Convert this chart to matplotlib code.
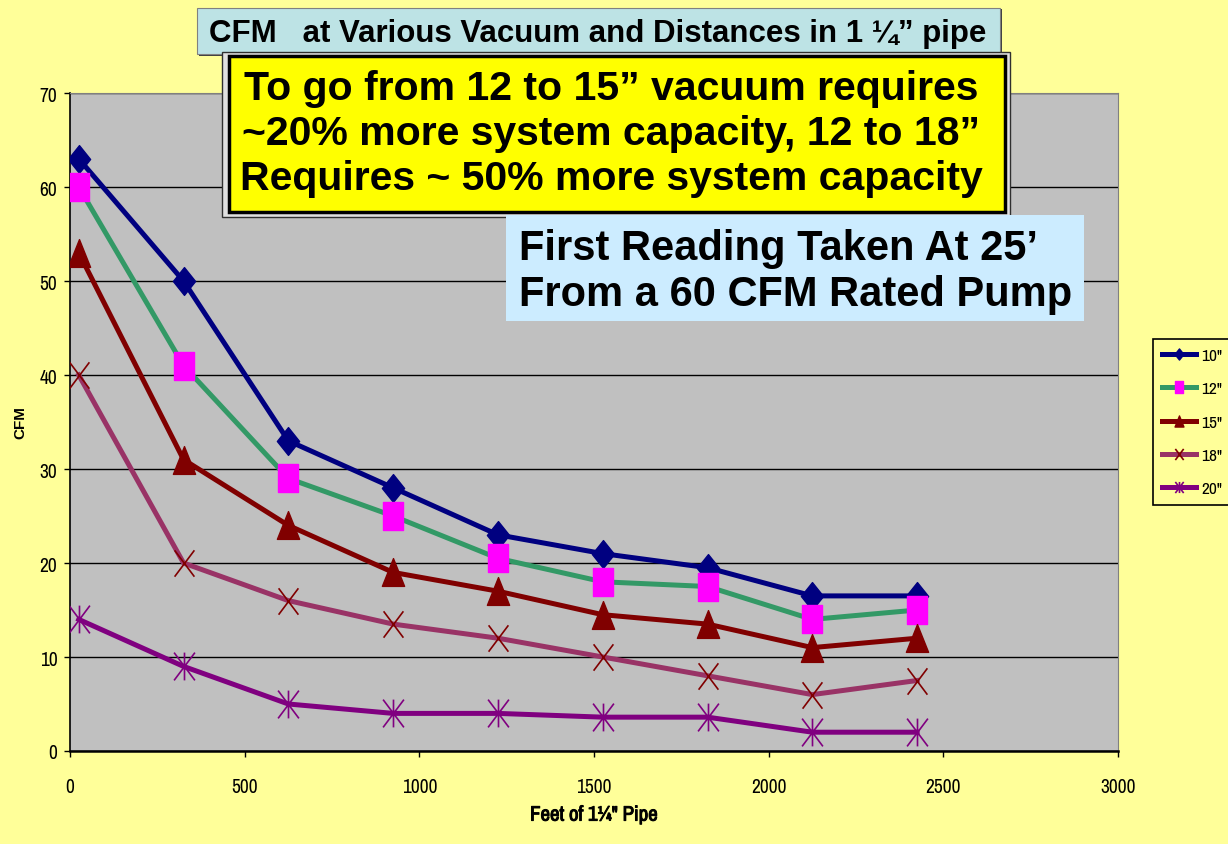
import matplotlib
matplotlib.use("Agg")
import matplotlib.pyplot as plt
import matplotlib.patheffects as pe
from matplotlib import font_manager
from matplotlib.path import Path
from matplotlib.patches import Rectangle
from matplotlib.lines import Line2D

# data
feet = [25, 325, 625, 925, 1225, 1525, 1825, 2125, 2425]
cfm_10 = [63, 50, 33, 28, 23, 21, 19.5, 16.5, 16.5]
cfm_12 = [60, 41, 29, 25, 20.5, 18, 17.5, 14, 15]
cfm_15 = [53, 31, 24, 19, 17, 14.5, 13.5, 11, 12]
cfm_18 = [40, 20, 16, 13.5, 12, 10, 8, 6, 7.5]
cfm_20 = [14, 9, 5, 4, 4, 3.6, 3.6, 2, 2]
labels = ['10"', '12"', '15"', '18"', '20"']

installed = {f.name for f in font_manager.fontManager.ttflist}


def pick(cands):
    found = [c for c in cands if c in installed]
    return found[:1] + ["DejaVu Sans"]


NARROW = pick(["Liberation Sans Narrow", "Arial Narrow", "Archivo Narrow",
               "Roboto Condensed", "PT Sans Narrow", "Open Sans Condensed",
               "Liberation Sans", "Arimo", "Arial", "Roboto"])
BOLD = pick(["Liberation Sans", "Arimo", "Arial", "Helvetica", "Roboto"])
BG = "#FFFF99"
# the narrow face may lack a bold weight, so thicken it with a stroke
fake_bold = [pe.withStroke(linewidth=0.7, foreground="black")]

# Excel-like markers, a bit taller than wide
diamond = Path([(0, 1), (0.8, 0), (0, -1), (-0.8, 0), (0, 1)],
               [Path.MOVETO, Path.LINETO, Path.LINETO, Path.LINETO, Path.CLOSEPOLY])
rect = Path([(-0.75, -1), (0.75, -1), (0.75, 1), (-0.75, 1), (-0.75, -1)],
            [Path.MOVETO, Path.LINETO, Path.LINETO, Path.LINETO, Path.CLOSEPOLY])
tri = Path([(0, 1), (0.8, -1), (-0.8, -1), (0, 1)],
           [Path.MOVETO, Path.LINETO, Path.LINETO, Path.CLOSEPOLY])
cross = Path([(-0.75, -1), (0.75, 1), (-0.75, 1), (0.75, -1)],
             [Path.MOVETO, Path.LINETO, Path.MOVETO, Path.LINETO])
star = Path([(-0.75, -1), (0.75, 1), (-0.75, 1), (0.75, -1), (0, -1), (0, 1)],
            [Path.MOVETO, Path.LINETO, Path.MOVETO, Path.LINETO, Path.MOVETO, Path.LINETO])

styles = [
    dict(color="#000080", marker=diamond, mfc="#000080", mec="#000080", ms=20),
    dict(color="#339966", marker=rect, mfc="#FF00FF", mec="#FF00FF", ms=20),
    dict(color="#800000", marker=tri, mfc="#800000", mec="#800000", ms=20),
    dict(color="#993366", marker=cross, mfc="none", mec="#800000", ms=19, mew=1.2),
    dict(color="#800080", marker=star, mfc="none", mec="#800080", ms=20, mew=1.2),
]

fig = plt.figure(figsize=(12.28, 8.45), dpi=100, facecolor=BG)
ax = fig.add_axes([70 / 1228, 1 - 752 / 845, 1048 / 1228, 658 / 845])
ax.set_facecolor("#C0C0C0")

for ys, st in zip([cfm_10, cfm_12, cfm_15, cfm_18, cfm_20], styles):
    ax.plot(feet, ys, lw=3.6, zorder=3, **st)

ax.set_xlim(0, 3000)
ax.set_ylim(0, 70)
ax.set_xticks(range(0, 3001, 500))
ax.set_yticks(range(0, 71, 10))
ax.yaxis.grid(True, color="black", lw=1)
ax.set_axisbelow(True)
for s in ["top", "right"]:
    ax.spines[s].set_color("#808080")
    ax.spines[s].set_linewidth(0.8)
ax.spines["left"].set_linewidth(1.2)
ax.spines["bottom"].set_linewidth(1.8)
ax.tick_params(length=4, width=1, direction="out")
ax.tick_params(axis="x", pad=15)
ax.tick_params(axis="y", pad=5)
for t in ax.get_xticklabels() + ax.get_yticklabels():
    t.set_family(NARROW)
    t.set_fontsize(14)
ax.set_xlabel('Feet of 1\u00bc" Pipe', family=NARROW, fontweight="bold",
              fontsize=15, path_effects=fake_bold)
ax.xaxis.set_label_coords(0.5, -0.083)
ax.set_ylabel("CFM", family=BOLD, fontweight="bold", fontsize=11)
ax.yaxis.set_label_coords(-0.041, 0.5)

# legend with small markers
handles = []
for lab, st in zip(labels, styles):
    s = dict(st)
    s["ms"] = 8
    handles.append(Line2D([], [], lw=3.6, label=lab, **s))
leg = fig.legend(handles=handles, loc="upper left",
                 bbox_to_anchor=(1153 / 1228, 1 - 340 / 845),
                 prop={"family": NARROW, "size": 12.5}, fancybox=False,
                 facecolor=BG, edgecolor="black", framealpha=1,
                 handlelength=2.0, handletextpad=0.3, labelspacing=1.05,
                 borderpad=0.5, borderaxespad=0)
leg.get_frame().set_linewidth(1.2)


def fx(px):
    return px / 1228


def fy(py):
    return 1 - py / 845


# title box
fig.patches.append(Rectangle((fx(199), fy(57)), fx(803), 47 / 845,
                             transform=fig.transFigure, facecolor="#404040",
                             edgecolor="none", zorder=5))
fig.patches.append(Rectangle((fx(197), fy(55)), fx(803), 46 / 845,
                             transform=fig.transFigure, facecolor="#BDE3E5",
                             edgecolor="#808080", lw=0.8, zorder=6))
fig.text(fx(598), fy(34), "CFM   at Various Vacuum and Distances in 1 \u00bc\u201d pipe",
         ha="center", va="center", family=BOLD, fontweight="bold",
         fontsize=22.5, zorder=7)

# yellow note box
fig.patches.append(Rectangle((fx(222), fy(218)), fx(788), 165 / 845,
                             transform=fig.transFigure, facecolor="#E0E0E0",
                             edgecolor="#303030", lw=1, zorder=8))
fig.patches.append(Rectangle((fx(229), fy(213)), fx(776), 156 / 845,
                             transform=fig.transFigure, facecolor="#FFFF00",
                             edgecolor="black", lw=2.5, zorder=9))
fig.text(fx(611), fy(134),
         "To go from 12 to 15\u201d vacuum requires\n"
         "~20% more system capacity, 12 to 18\u201d\n"
         "Requires ~ 50% more system capacity",
         ha="center", va="center", family=BOLD, fontweight="bold",
         fontsize=29.5, linespacing=1.23, zorder=10)

# blue note box
fig.patches.append(Rectangle((fx(506), fy(322)), fx(578), 106 / 845,
                             transform=fig.transFigure, facecolor="#CCECFF",
                             edgecolor="none", zorder=8))
fig.text(fx(519), fy(272),
         "First Reading Taken At 25\u2019\nFrom a 60 CFM Rated Pump",
         ha="left", va="center", family=BOLD, fontweight="bold",
         fontsize=30, linespacing=1.2, zorder=10)

fig.savefig("out.png", dpi=100, facecolor=BG)
